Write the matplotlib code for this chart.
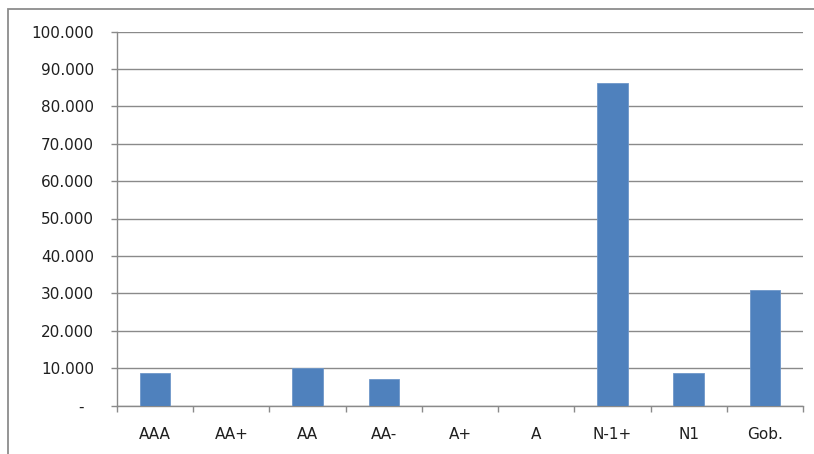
import matplotlib.pyplot as plt
from matplotlib.patches import Rectangle

# data
categories = ['AAA', 'AA+', 'AA', 'AA-', 'A+', 'A', 'N-1+', 'N1', 'Gob.']
values = [8800, 0, 10100, 7000, 0, 0, 86100, 8800, 30900]
y_ticks = list(range(0, 100001, 10000))


def fmt(v):
    if v == 0:
        return '-  '
    return f'{v:,.0f}'.replace(',', '.')


plt.rcParams['font.family'] = ['DejaVu Sans']

W, H = 814, 454
fig = plt.figure(figsize=(W / 100, H / 100), dpi=100)
ax = fig.add_axes([117 / W, 1 - 405.5 / H, (803 - 117) / W, (405.5 - 31.5) / H])

# outer chart border (cut at right and bottom like the screenshot)
fig.patches.append(Rectangle((8 / W, -0.1), 1.2, 1 - 9 / H + 0.1, transform=fig.transFigure,
                             fill=False, edgecolor='#8c8c8c', linewidth=1.3))

x = list(range(len(categories)))
ax.bar(x, values, width=0.4, color='#4F81BD', edgecolor='#6f97c9', linewidth=0.6, zorder=3)

ax.set_xlim(-0.5, len(categories) - 0.5)
ax.set_ylim(0, 100000)
ax.set_yticks(y_ticks)
ax.set_yticklabels([fmt(v) for v in y_ticks])
ax.set_xticks(x)
ax.set_xticklabels(categories)
ax.set_xticks([i - 0.5 for i in range(len(categories) + 1)], minor=True)

ax.grid(axis='y', color='#8a8a8a', linewidth=1.0, zorder=0)
for side in ['top', 'right']:
    ax.spines[side].set_visible(False)
for side in ['left', 'bottom']:
    ax.spines[side].set_color('#8a8a8a')
    ax.spines[side].set_linewidth(1.0)

ax.tick_params(axis='y', length=4.5, width=1.0, color='#8a8a8a', pad=12,
               labelsize=11, labelcolor='#1f1f1f')
ax.tick_params(axis='x', which='major', length=0, pad=15.5, labelsize=11, labelcolor='#1f1f1f')
ax.tick_params(axis='x', which='minor', length=4.5, width=1.0, color='#8a8a8a')

fig.savefig('out.png', dpi=100)
